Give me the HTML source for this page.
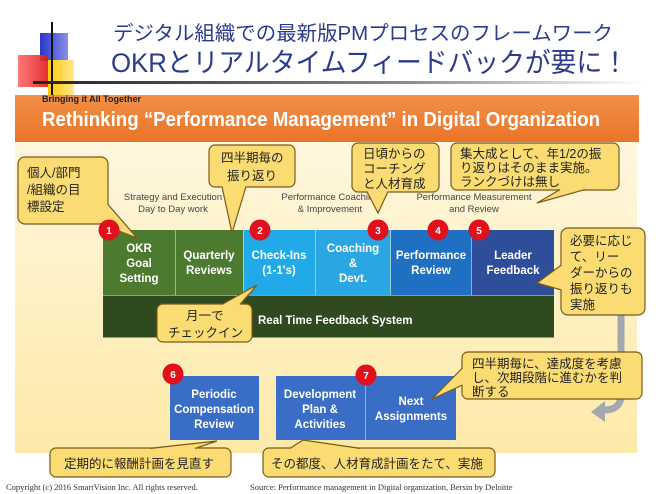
<!DOCTYPE html>
<html><head><meta charset="utf-8"><style>
body{margin:0;width:658px;height:494px;background:#fff;overflow:hidden;font-family:"Liberation Sans","Noto Sans CJK JP",sans-serif}
svg{display:block}
.j{font-family:"Liberation Sans","Noto Sans CJK JP",sans-serif}
.cb{fill:#fbdc72;stroke:#7a5a1a;stroke-width:1.2}
.ct{font-size:12.5px;fill:#222}
.bx{font-size:11.5px;font-weight:bold;fill:#fff;text-anchor:middle}
.sec{font-size:9.5px;fill:#444;text-anchor:middle}
.num{font-size:10px;font-weight:bold;fill:#fff;text-anchor:middle}
</style></head><body>
<svg width="658" height="494" viewBox="0 0 658 494" xmlns="http://www.w3.org/2000/svg">
<defs>
<linearGradient id="hl" x1="0" x2="1"><stop offset="0" stop-color="#222"/><stop offset="0.6" stop-color="#888"/><stop offset="1" stop-color="#fff"/></linearGradient>
<linearGradient id="cr" x1="0" y1="0" x2="0" y2="1"><stop offset="0" stop-color="#fff9e6"/><stop offset="1" stop-color="#fde9a8"/></linearGradient>
<linearGradient id="or" x1="0" y1="0" x2="0" y2="1"><stop offset="0" stop-color="#f29048"/><stop offset="1" stop-color="#ea7428"/></linearGradient>
<linearGradient id="bs" x1="0" x2="1"><stop offset="0" stop-color="#2a36c8"/><stop offset="1" stop-color="#8890e8"/></linearGradient>
<linearGradient id="rs" x1="0" x2="1"><stop offset="0" stop-color="#ff6b6b"/><stop offset="1" stop-color="#e01818"/></linearGradient>
<linearGradient id="ys" x1="0" x2="1"><stop offset="0" stop-color="#ffc800"/><stop offset="1" stop-color="#ffe890"/></linearGradient>
</defs>
<!-- deco -->
<rect x="40" y="33" width="28" height="28" fill="url(#bs)"/>
<rect x="48" y="60" width="26" height="36" fill="url(#ys)"/>
<rect x="18" y="55" width="30" height="32" fill="url(#rs)" opacity="0.9"/>
<rect x="51" y="22" width="2" height="76" fill="#111"/>
<rect x="33" y="81" width="610" height="3" fill="url(#hl)"/>
<text x="113" y="40" font-size="20" fill="#2a3a8c" class="j" textLength="500" lengthAdjust="spacingAndGlyphs">デジタル組織での最新版PMプロセスのフレームワーク</text>
<text x="111" y="72" font-size="27" fill="#2a3a8c" class="j" textLength="517" lengthAdjust="spacingAndGlyphs">OKRとリアルタイムフィードバックが要に！</text>
<!-- cream -->
<rect x="15" y="95" width="622" height="358" fill="url(#cr)"/>
<rect x="15" y="95" width="624" height="47" fill="url(#or)"/>
<text x="42" y="102" font-size="9" fill="#222" font-weight="bold">Bringing it All Together</text>
<text x="42" y="126" font-size="20" font-weight="bold" fill="#fff" textLength="558" lengthAdjust="spacingAndGlyphs">Rethinking “Performance Management” in Digital Organization</text>
<!-- section labels -->
<text x="173" y="200" class="sec">Strategy and Execution</text><text x="173" y="212" class="sec">Day to Day work</text>
<text x="330" y="200" class="sec">Performance Coaching</text><text x="330" y="212" class="sec">&amp; Improvement</text>
<text x="474" y="200" class="sec">Performance Measurement</text><text x="474" y="212" class="sec">and Review</text>
<!-- boxes -->
<rect x="103" y="230" width="72" height="65" fill="#4c7a2e"/>
<rect x="175.5" y="230" width="67.5" height="65" fill="#4c7a2e"/>
<rect x="243.5" y="230" width="71.5" height="65" fill="#22aae8"/>
<rect x="315.5" y="230" width="75" height="65" fill="#2aa6e2"/>
<rect x="391" y="230" width="80.5" height="65" fill="#1f6fc2"/>
<rect x="472" y="230" width="82" height="65" fill="#2f4e9a"/>
<rect x="103" y="295.5" width="451" height="42" fill="#2e4a1e"/>
<text class="bx"><tspan x="139" y="252">OKR</tspan><tspan x="139" y="267">Goal</tspan><tspan x="139" y="282">Setting</tspan></text>
<text class="bx"><tspan x="209" y="259">Quarterly</tspan><tspan x="209" y="274">Reviews</tspan></text>
<text class="bx"><tspan x="279" y="259">Check-Ins</tspan><tspan x="279" y="274">(1-1's)</tspan></text>
<text class="bx"><tspan x="353" y="252">Coaching</tspan><tspan x="353" y="267">&amp;</tspan><tspan x="353" y="282">Devt.</tspan></text>
<text class="bx"><tspan x="431" y="259">Performance</tspan><tspan x="431" y="274">Review</tspan></text>
<text class="bx"><tspan x="513" y="259">Leader</tspan><tspan x="513" y="274">Feedback</tspan></text>
<text x="258" y="324" font-size="11.5" font-weight="bold" fill="#fff">Real Time Feedback System</text>
<!-- bottom boxes -->
<rect x="170" y="376" width="89" height="64" fill="#3a6ec6"/>
<rect x="276" y="376" width="89.5" height="64" fill="#3a6ec6"/>
<rect x="366" y="376" width="90" height="64" fill="#3a6ec6"/>
<text class="bx"><tspan x="214" y="398">Periodic</tspan><tspan x="214" y="413">Compensation</tspan><tspan x="214" y="428">Review</tspan></text>
<text class="bx"><tspan x="320" y="398">Development</tspan><tspan x="320" y="413">Plan &amp;</tspan><tspan x="320" y="428">Activities</tspan></text>
<text class="bx"><tspan x="411" y="405">Next</tspan><tspan x="411" y="420">Assignments</tspan></text>
<!-- gray arrow -->
<path d="M621 313 V395 Q621 410 604 410" fill="none" stroke="#a3a7ae" stroke-width="7"/>
<path d="M591 412 L605 401 L605 422 Z" fill="#a3a7ae"/>
<!-- callouts -->
<rect class="cb" x="18" y="157" width="90" height="67" rx="7"/>
<path d="M100 223 L137 238 L107 204 Z" fill="#fbdc72"/><path d="M100 223.6 L137 238 L107.6 204" fill="none" stroke="#7a5a1a" stroke-width="1.2"/>
<text class="ct"><tspan x="27" y="177">個人/部門</tspan><tspan x="27" y="194">/組織の目</tspan><tspan x="27" y="211">標設定</tspan></text>

<rect class="cb" x="209" y="145" width="86" height="42" rx="6"/>
<path d="M222 186 L232 233 L246 186 Z" fill="#fbdc72"/><path d="M222 186.6 L232 233 L246 186.6" fill="none" stroke="#7a5a1a" stroke-width="1.2"/>
<text class="ct"><tspan x="221" y="162">四半期毎の</tspan><tspan x="227" y="180">振り返り</tspan></text>

<rect class="cb" x="352" y="143" width="87" height="49" rx="6"/>
<path d="M367 191 L378 213 L388 191 Z" fill="#fbdc72"/><path d="M367 191.6 L378 213 L388 191.6" fill="none" stroke="#7a5a1a" stroke-width="1.2"/>
<text class="ct"><tspan x="363" y="158">日頃からの</tspan><tspan x="363" y="173">コーチング</tspan><tspan x="363" y="188">と人材育成</tspan></text>

<rect class="cb" x="451" y="143" width="168" height="47" rx="6"/>
<path d="M560 189 L537 203 L585 189 Z" fill="#fbdc72"/><path d="M560 189.6 L537 203 L585 189.6" fill="none" stroke="#7a5a1a" stroke-width="1.2"/>
<text class="ct"><tspan x="460" y="158">集大成として、年1/2の振</tspan><tspan x="460" y="172">り返りはそのまま実施。</tspan><tspan x="460" y="186">ランクづけは無し</tspan></text>

<rect class="cb" x="561" y="228" width="84" height="87" rx="7"/>
<path d="M562 265 L537 283 L562 290 Z" fill="#fbdc72"/><path d="M561.4 265 L537 283 L561.4 290" fill="none" stroke="#7a5a1a" stroke-width="1.2"/>
<text class="ct"><tspan x="570" y="245">必要に応じ</tspan><tspan x="570" y="261">て、リー</tspan><tspan x="570" y="277">ダーからの</tspan><tspan x="570" y="293">振り返りも</tspan><tspan x="570" y="309">実施</tspan></text>

<rect class="cb" x="157" y="304" width="95" height="38" rx="6"/>
<path d="M222 305 L257 285 L240 305 Z" fill="#fbdc72"/><path d="M222 304.4 L257 285 L240 304.4" fill="none" stroke="#7a5a1a" stroke-width="1.2"/>
<text class="ct"><tspan x="186" y="320">月一で</tspan><tspan x="168" y="337">チェックイン</tspan></text>

<rect class="cb" x="462" y="352" width="180" height="47" rx="6"/>
<path d="M463 368 L432 399 L463 385 Z" fill="#fbdc72"/><path d="M462.4 368 L432 399 L462.4 385" fill="none" stroke="#7a5a1a" stroke-width="1.2"/>
<text class="ct"><tspan x="472" y="368">四半期毎に、達成度を考慮</tspan><tspan x="472" y="382">し、次期段階に進むかを判</tspan><tspan x="472" y="396">断する</tspan></text>

<rect class="cb" x="50" y="448" width="181" height="29" rx="6"/>
<path d="M150 449 L217 441 L195 449 Z" fill="#fbdc72"/><path d="M150 448.4 L217 441 L195 448.4" fill="none" stroke="#7a5a1a" stroke-width="1.2"/>
<text class="ct" x="64" y="468">定期的に報酬計画を見直す</text>

<rect class="cb" x="263" y="448" width="232" height="29" rx="6"/>
<path d="M290 449 L303 440 L360 449 Z" fill="#fbdc72"/><path d="M290 448.4 L303 440 L360 448.4" fill="none" stroke="#7a5a1a" stroke-width="1.2"/>
<text class="ct" x="271" y="468">その都度、人材育成計画をたて、実施</text>

<!-- numbers -->
<g>
<circle cx="109" cy="230" r="10.5" fill="#e0101c"/><text x="109" y="234" class="num">1</text>
<circle cx="260" cy="230" r="10.5" fill="#e0101c"/><text x="260" y="234" class="num">2</text>
<circle cx="378" cy="230" r="10.5" fill="#e0101c"/><text x="378" y="234" class="num">3</text>
<circle cx="438" cy="230" r="10.5" fill="#e0101c"/><text x="438" y="234" class="num">4</text>
<circle cx="479" cy="230" r="10.5" fill="#e0101c"/><text x="479" y="234" class="num">5</text>
<circle cx="173" cy="374" r="10.5" fill="#e0101c"/><text x="173" y="378" class="num">6</text>
<circle cx="366" cy="375" r="10.5" fill="#e0101c"/><text x="366" y="379" class="num">7</text>
</g>

<text x="6" y="490" font-size="8.5" fill="#333" font-family="Liberation Serif,serif">Copyright (c) 2016 SmartVision Inc. All rights reserved.</text>
<text x="250" y="490" font-size="8.5" fill="#333" font-family="Liberation Serif,serif">Source: Performance management in Digital organization, Bersin by Deloitte</text>
</svg>
</body></html>
